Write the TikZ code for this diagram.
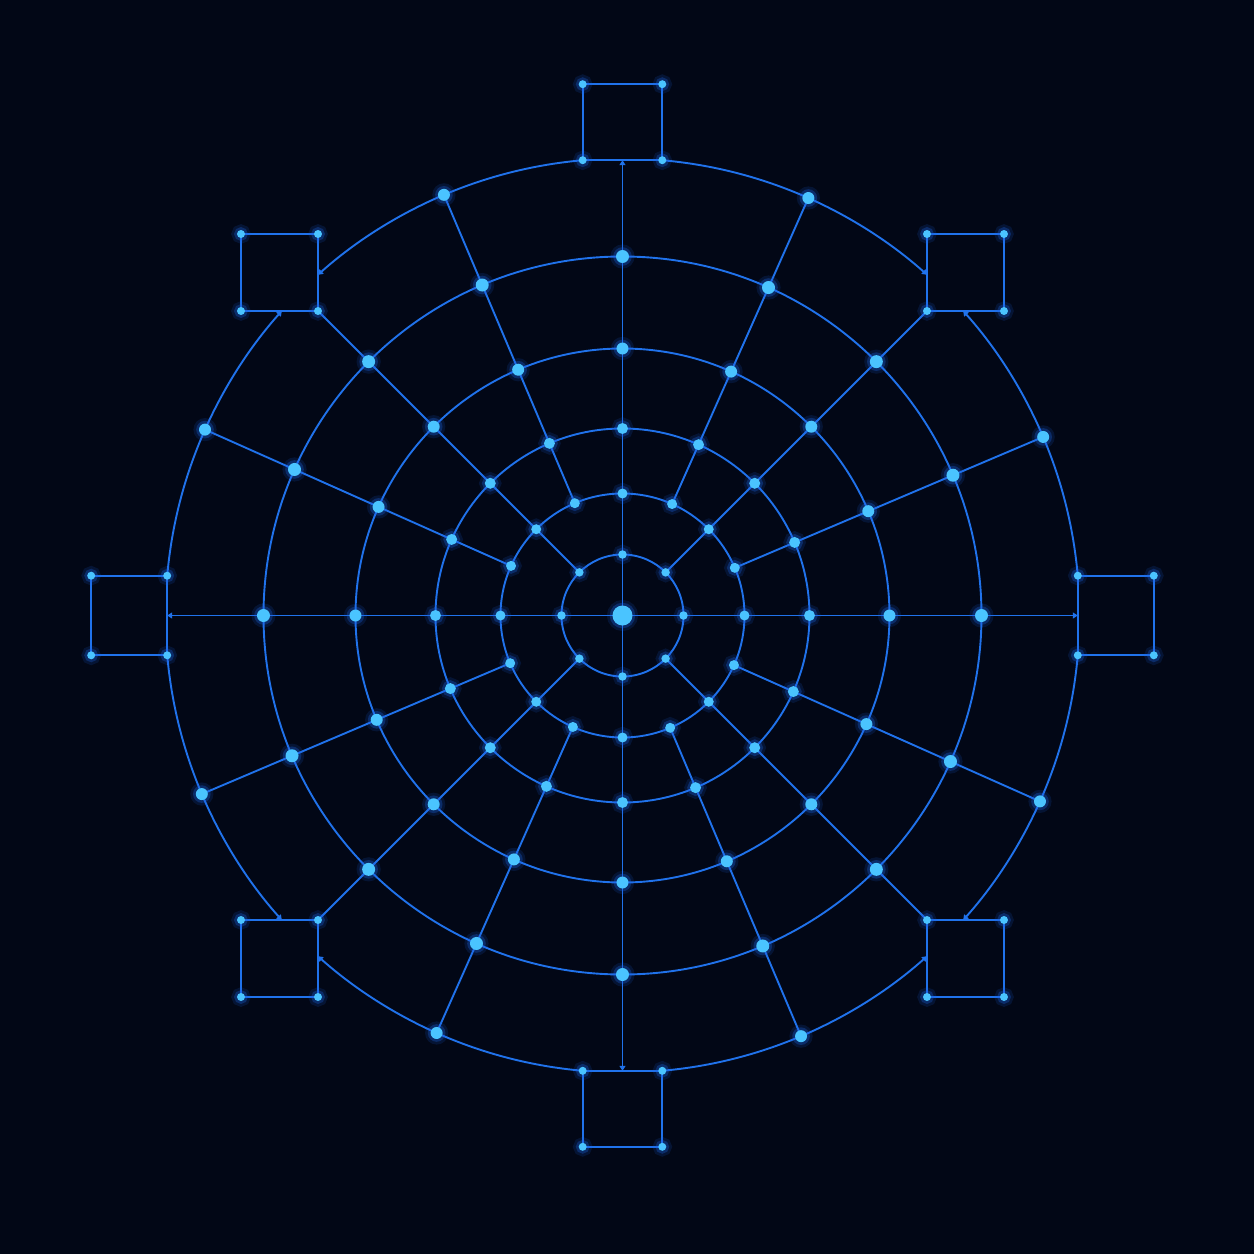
\documentclass[tikz,border=0pt]{standalone}
\usetikzlibrary{arrows.meta}
\definecolor{bgc}{RGB}{2,7,22}
\definecolor{linec}{RGB}{32,114,235}
\definecolor{dotc}{RGB}{74,196,255}
\definecolor{glowc}{RGB}{28,100,230}
\pgfdeclarelayer{back}
\pgfsetlayers{back,main}
\begin{document}
\begin{tikzpicture}
  [x=0.1mm, y=0.1mm,
   every node/.style={circle, fill=dotc, inner sep=0pt, minimum size=0.8mm,
     preaction={draw=glowc, draw opacity=0.15, line width=1.1mm},
     preaction={draw=glowc, draw opacity=0.3, line width=0.55mm}},
   wire/.style={draw=linec, line width=0.19mm},
   endmark/.style={-{Triangle[length=0.5mm, width=0.6mm]}}]
  \begin{pgfonlayer}{back}
    \fill[bgc] (-622.5,-638.5) rectangle (631.5,615.5);
  \end{pgfonlayer}
  \node[minimum size=2mm] (c) at (0,0) {};
  \foreach \q in {0,1,2,3}{
    \begin{scope}[rotate=90*\q]
      \node[minimum size=0.85mm] (r1-\q-0) at (0:61) {};
      \node[minimum size=0.85mm] (r1-\q-2) at (45:61) {};
      \foreach \r/\s [count=\i from 2] in {122/1,187/1.1,267/1.2,359/1.3}
        \foreach \a [count=\j from 0] in {0,23,45,66}
          \node[minimum size=\s*1mm] (r\i-\q-\j) at (\a:\r) {};
      \node[minimum size=1.2mm] (o-\q-1) at (23:457) {};
      \node[minimum size=1.2mm] (o-\q-3) at (66:457) {};
      \node (a-\q-1) at (455.3,-39.8) {};
      \node (a-\q-2) at (455.3,39.8) {};
      \node (a-\q-3) at (531.3,39.8) {};
      \node (a-\q-4) at (531.3,-39.8) {};
      \coordinate (m-\q) at (455.3,0);
      \node (d-\q-1) at (304.5,304.5) {};
      \node (d-\q-2) at (381.5,304.5) {};
      \node (d-\q-3) at (381.5,381.5) {};
      \node (d-\q-4) at (304.5,381.5) {};
      \begin{pgfonlayer}{back}
        \draw[wire] (a-\q-1.center) -- (a-\q-2.center) -- (a-\q-3.center) -- (a-\q-4.center) -- cycle;
        \draw[wire] (d-\q-1.center) -- (d-\q-2.center) -- (d-\q-3.center) -- (d-\q-4.center) -- cycle;
        \draw[wire, endmark] (c.center) -- (r1-\q-0.center) -- (r2-\q-0.center) -- (r3-\q-0.center)
          -- (r4-\q-0.center) -- (r5-\q-0.center) -- (m-\q);
        \draw[wire] (r1-\q-2.center) -- (r2-\q-2.center) -- (r3-\q-2.center) -- (r4-\q-2.center)
          -- (r5-\q-2.center) -- (d-\q-1.center);
        \draw[wire] (r2-\q-1.center) -- (r3-\q-1.center) -- (r4-\q-1.center) -- (r5-\q-1.center) -- (o-\q-1.center);
        \draw[wire] (r2-\q-3.center) -- (r3-\q-3.center) -- (r4-\q-3.center) -- (r5-\q-3.center) -- (o-\q-3.center);
        \draw[wire] (o-\q-1.center) arc[start angle=23, end angle=5, radius=457];
        \draw[wire, endmark] (o-\q-1.center) arc[start angle=23, end angle=41.8, radius=457];
        \draw[wire, endmark] (o-\q-3.center) arc[start angle=66, end angle=48.2, radius=457];
        \draw[wire] (o-\q-3.center) arc[start angle=66, end angle=85, radius=457];
      \end{pgfonlayer}
    \end{scope}
  }
  \begin{pgfonlayer}{back}
    \foreach \r in {61,122,187,267,359}
      \draw[wire] (c.center) circle[radius=\r];
  \end{pgfonlayer}
\end{tikzpicture}
\end{document}
